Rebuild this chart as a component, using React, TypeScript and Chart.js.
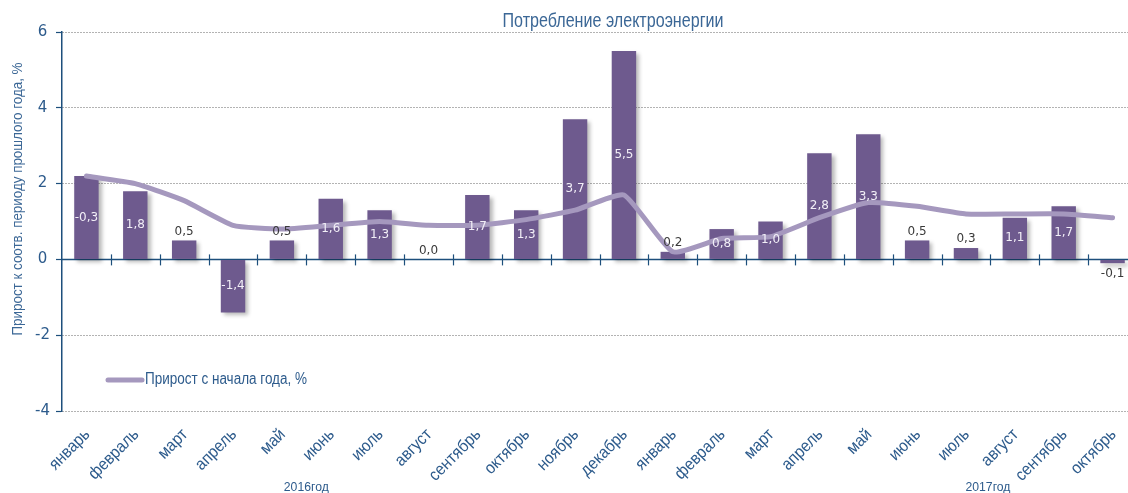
import React, { useEffect, useRef } from 'react';
import { Chart, registerables } from 'chart.js';

Chart.register(...registerables);

const categories = [
  'январь', 'февраль', 'март', 'апрель', 'май', 'июнь', 'июль', 'август',
  'сентябрь', 'октябрь', 'ноябрь', 'декабрь',
  'январь', 'февраль', 'март', 'апрель', 'май', 'июнь', 'июль', 'август',
  'сентябрь', 'октябрь',
];

const monthlyGrowth = [
  2.2, 1.8, 0.5, -1.4, 0.5, 1.6, 1.3, 0.0, 1.7, 1.3, 3.7, 5.5,
  0.2, 0.8, 1.0, 2.8, 3.3, 0.5, 0.3, 1.1, 1.4, -0.1,
];

const barLabels = [
  '-0,3', '1,8', '0,5', '-1,4', '0,5', '1,6', '1,3', '0,0', '1,7', '1,3', '3,7', '5,5',
  '0,2', '0,8', '1,0', '2,8', '3,3', '0,5', '0,3', '1,1', '1,7', '-0,1',
];

const ytdGrowth = [
  2.2, 2.0, 1.55, 0.9, 0.8, 0.9, 1.0, 0.9, 0.9, 1.05, 1.3, 1.7,
  0.2, 0.55, 0.6, 1.1, 1.5, 1.4, 1.2, 1.2, 1.2, 1.1,
];

const yearLabels = ['2016год', '2017год'];
const yTicks = [-4, -2, 0, 2, 4, 6];

const chartTitle = 'Потребление электроэнергии';
const yAxisTitle = 'Прирост к соотв. периоду прошлого года, %';
const lineLegend = 'Прирост с начала года, %';

const SANS = "'Liberation Sans', Arial, sans-serif";
const WIDE = "'DejaVu Sans', 'Liberation Sans', sans-serif";
const BLUE_TEXT = '#2d5b8c';
const TITLE_BLUE = '#3b6796';
const AXIS_BLUE = '#1d4f7c';
const BAR_COLOR = '#6e5a8e';
const LINE_COLOR = '#a598be';

function fitText(ctx: CanvasRenderingContext2D, text: string, x: number, y: number, width: number, rot = 0) {
  const natural = ctx.measureText(text).width;
  const s = width / natural;
  ctx.save();
  ctx.translate(x, y);
  if (rot) ctx.rotate(rot);
  ctx.scale(s, 1);
  ctx.fillText(text, 0, 0);
  ctx.restore();
}

export default function App() {
  const ref = useRef<HTMLCanvasElement>(null);

  useEffect(() => {
    const canvas = ref.current;
    if (!canvas) return;

    const overlay = {
      id: 'overlay',
      beforeDatasetsDraw(chart: any) {
        const { ctx, chartArea, scales } = chart;
        const x = scales.x;
        const y0 = scales.y.getPixelForValue(0);
        ctx.save();
        ctx.strokeStyle = AXIS_BLUE;
        ctx.lineWidth = 1.5;
        ctx.beginPath();
        ctx.moveTo(chartArea.left, y0);
        ctx.lineTo(chartArea.right, y0);
        ctx.stroke();
        ctx.lineWidth = 1.2;
        for (let i = 1; i < categories.length; i++) {
          const px = Math.round(x.getPixelForValue(i - 0.5)) + 0.5;
          ctx.beginPath();
          ctx.moveTo(px, y0 - 5);
          ctx.lineTo(px, y0 + 6);
          ctx.stroke();
        }
        ctx.restore();
      },
      beforeDatasetDraw(chart: any, args: any) {
        if (args.meta.type !== 'bar') return;
        const ctx = chart.ctx;
        ctx.save();
        ctx.shadowColor = 'rgba(0,0,0,0.28)';
        ctx.shadowOffsetX = 3;
        ctx.shadowOffsetY = 3;
        ctx.shadowBlur = 4;
      },
      afterDatasetDraw(chart: any, args: any) {
        if (args.meta.type !== 'bar') return;
        chart.ctx.restore();
      },
      afterDatasetsDraw(chart: any) {
        const { ctx } = chart;
        const meta = chart.getDatasetMeta(0);
        ctx.save();
        ctx.font = `12px ${WIDE}`;
        ctx.textAlign = 'center';
        ctx.textBaseline = 'middle';
        meta.data.forEach((el: any, i: number) => {
          const { x, y, base } = el.getProps(['x', 'y', 'base'], true);
          const v = monthlyGrowth[i];
          const text = barLabels[i];
          if (Math.abs(v) <= 0.5) {
            ctx.fillStyle = '#3a3a3a';
            if (v < 0) ctx.fillText(text, x, Math.max(y, base) + 11);
            else ctx.fillText(text, x, Math.min(y, base) - 9);
          } else {
            ctx.fillStyle = '#f2eff7';
            ctx.fillText(text, x, (y + base) / 2);
          }
        });
        ctx.restore();
      },
      afterDraw(chart: any) {
        const { ctx, scales } = chart;
        const xs = scales.x;
        const bottom = chart.chartArea.bottom;
        ctx.save();
        // title
        ctx.fillStyle = TITLE_BLUE;
        ctx.font = `20px ${SANS}`;
        ctx.textAlign = 'center';
        ctx.textBaseline = 'middle';
        fitText(ctx, chartTitle, 613, 21, 221);
        // y-axis title
        ctx.font = `15px ${SANS}`;
        fitText(ctx, yAxisTitle, 18, 199, 273, -Math.PI / 2);
        // legend
        const ly = 380;
        ctx.strokeStyle = LINE_COLOR;
        ctx.lineWidth = 5;
        ctx.lineCap = 'round';
        ctx.beginPath();
        ctx.moveTo(108, ly);
        ctx.lineTo(142, ly);
        ctx.stroke();
        ctx.fillStyle = BLUE_TEXT;
        ctx.font = `16px ${SANS}`;
        ctx.textAlign = 'left';
        fitText(ctx, lineLegend, 145, ly, 162);
        // x category labels, rotated
        ctx.font = `17px ${SANS}`;
        ctx.textAlign = 'right';
        const s = 50 / ctx.measureText('январь').width;
        categories.forEach((c, i) => {
          const px = xs.getPixelForValue(i);
          const w = ctx.measureText(c).width * s;
          fitText(ctx, c, px + 1, bottom + 21, w, -Math.PI / 4);
        });
        // year labels
        ctx.font = `13px ${SANS}`;
        ctx.textAlign = 'center';
        fitText(ctx, yearLabels[0], xs.getPixelForValue(4.5), 487, 45);
        fitText(ctx, yearLabels[1], xs.getPixelForValue(18.45), 487, 45);
        ctx.restore();
      },
    };

    const chart = new Chart(canvas, {
      type: 'bar',
      data: {
        labels: categories,
        datasets: [
          {
            type: 'bar',
            label: 'Прирост к соотв. периоду прошлого года, %',
            data: monthlyGrowth,
            backgroundColor: BAR_COLOR,
            barPercentage: 0.5,
            categoryPercentage: 1,
            order: 2,
          },
          {
            type: 'line',
            label: lineLegend,
            data: ytdGrowth,
            borderColor: LINE_COLOR,
            borderWidth: 5,
            pointRadius: 0,
            tension: 0.15,
            borderCapStyle: 'round',
            borderJoinStyle: 'round',
            order: 1,
          },
        ],
      },
      plugins: [overlay],
      options: {
        animation: false,
        responsive: true,
        maintainAspectRatio: false,
        layout: { padding: { top: 32, right: 3, left: 0, bottom: 0 } },
        plugins: {
          legend: { display: false },
          tooltip: { enabled: false },
          title: { display: false },
        },
        scales: {
          x: {
            type: 'category',
            offset: true,
            grid: { display: false, drawTicks: false },
            border: { display: false },
            ticks: { display: false },
            afterFit: (scale: any) => {
              scale.height = 82;
            },
          },
          y: {
            min: -4,
            max: 6,
            afterBuildTicks: (scale: any) => {
              scale.ticks = yTicks.map((v) => ({ value: v }));
            },
            grid: {
              color: (c: any) => (c.tick && c.tick.value === 0 ? 'rgba(0,0,0,0)' : '#666666'),
              lineWidth: 1,
              tickColor: AXIS_BLUE,
              tickLength: 6,
              tickBorderDash: [],
              tickWidth: 1.2,
            },
            border: { display: true, color: AXIS_BLUE, width: 1.5, dash: [1, 2] },
            ticks: {
              color: BLUE_TEXT,
              font: { family: WIDE, size: 15 },
              padding: 6,
              crossAlign: 'center',
              callback: (v: any) => String(v),
            },
            afterFit: (scale: any) => {
              scale.width = 62;
            },
          },
        },
      },
    });
    return () => chart.destroy();
  }, []);

  return (
    <div style={{ position: 'absolute', left: 0, top: 0, width: 1128, height: 493, overflow: 'hidden', background: '#fff' }}>
      <div style={{ position: 'relative', width: 1140, height: 493 }}>
        <canvas ref={ref} />
      </div>
    </div>
  );
}
